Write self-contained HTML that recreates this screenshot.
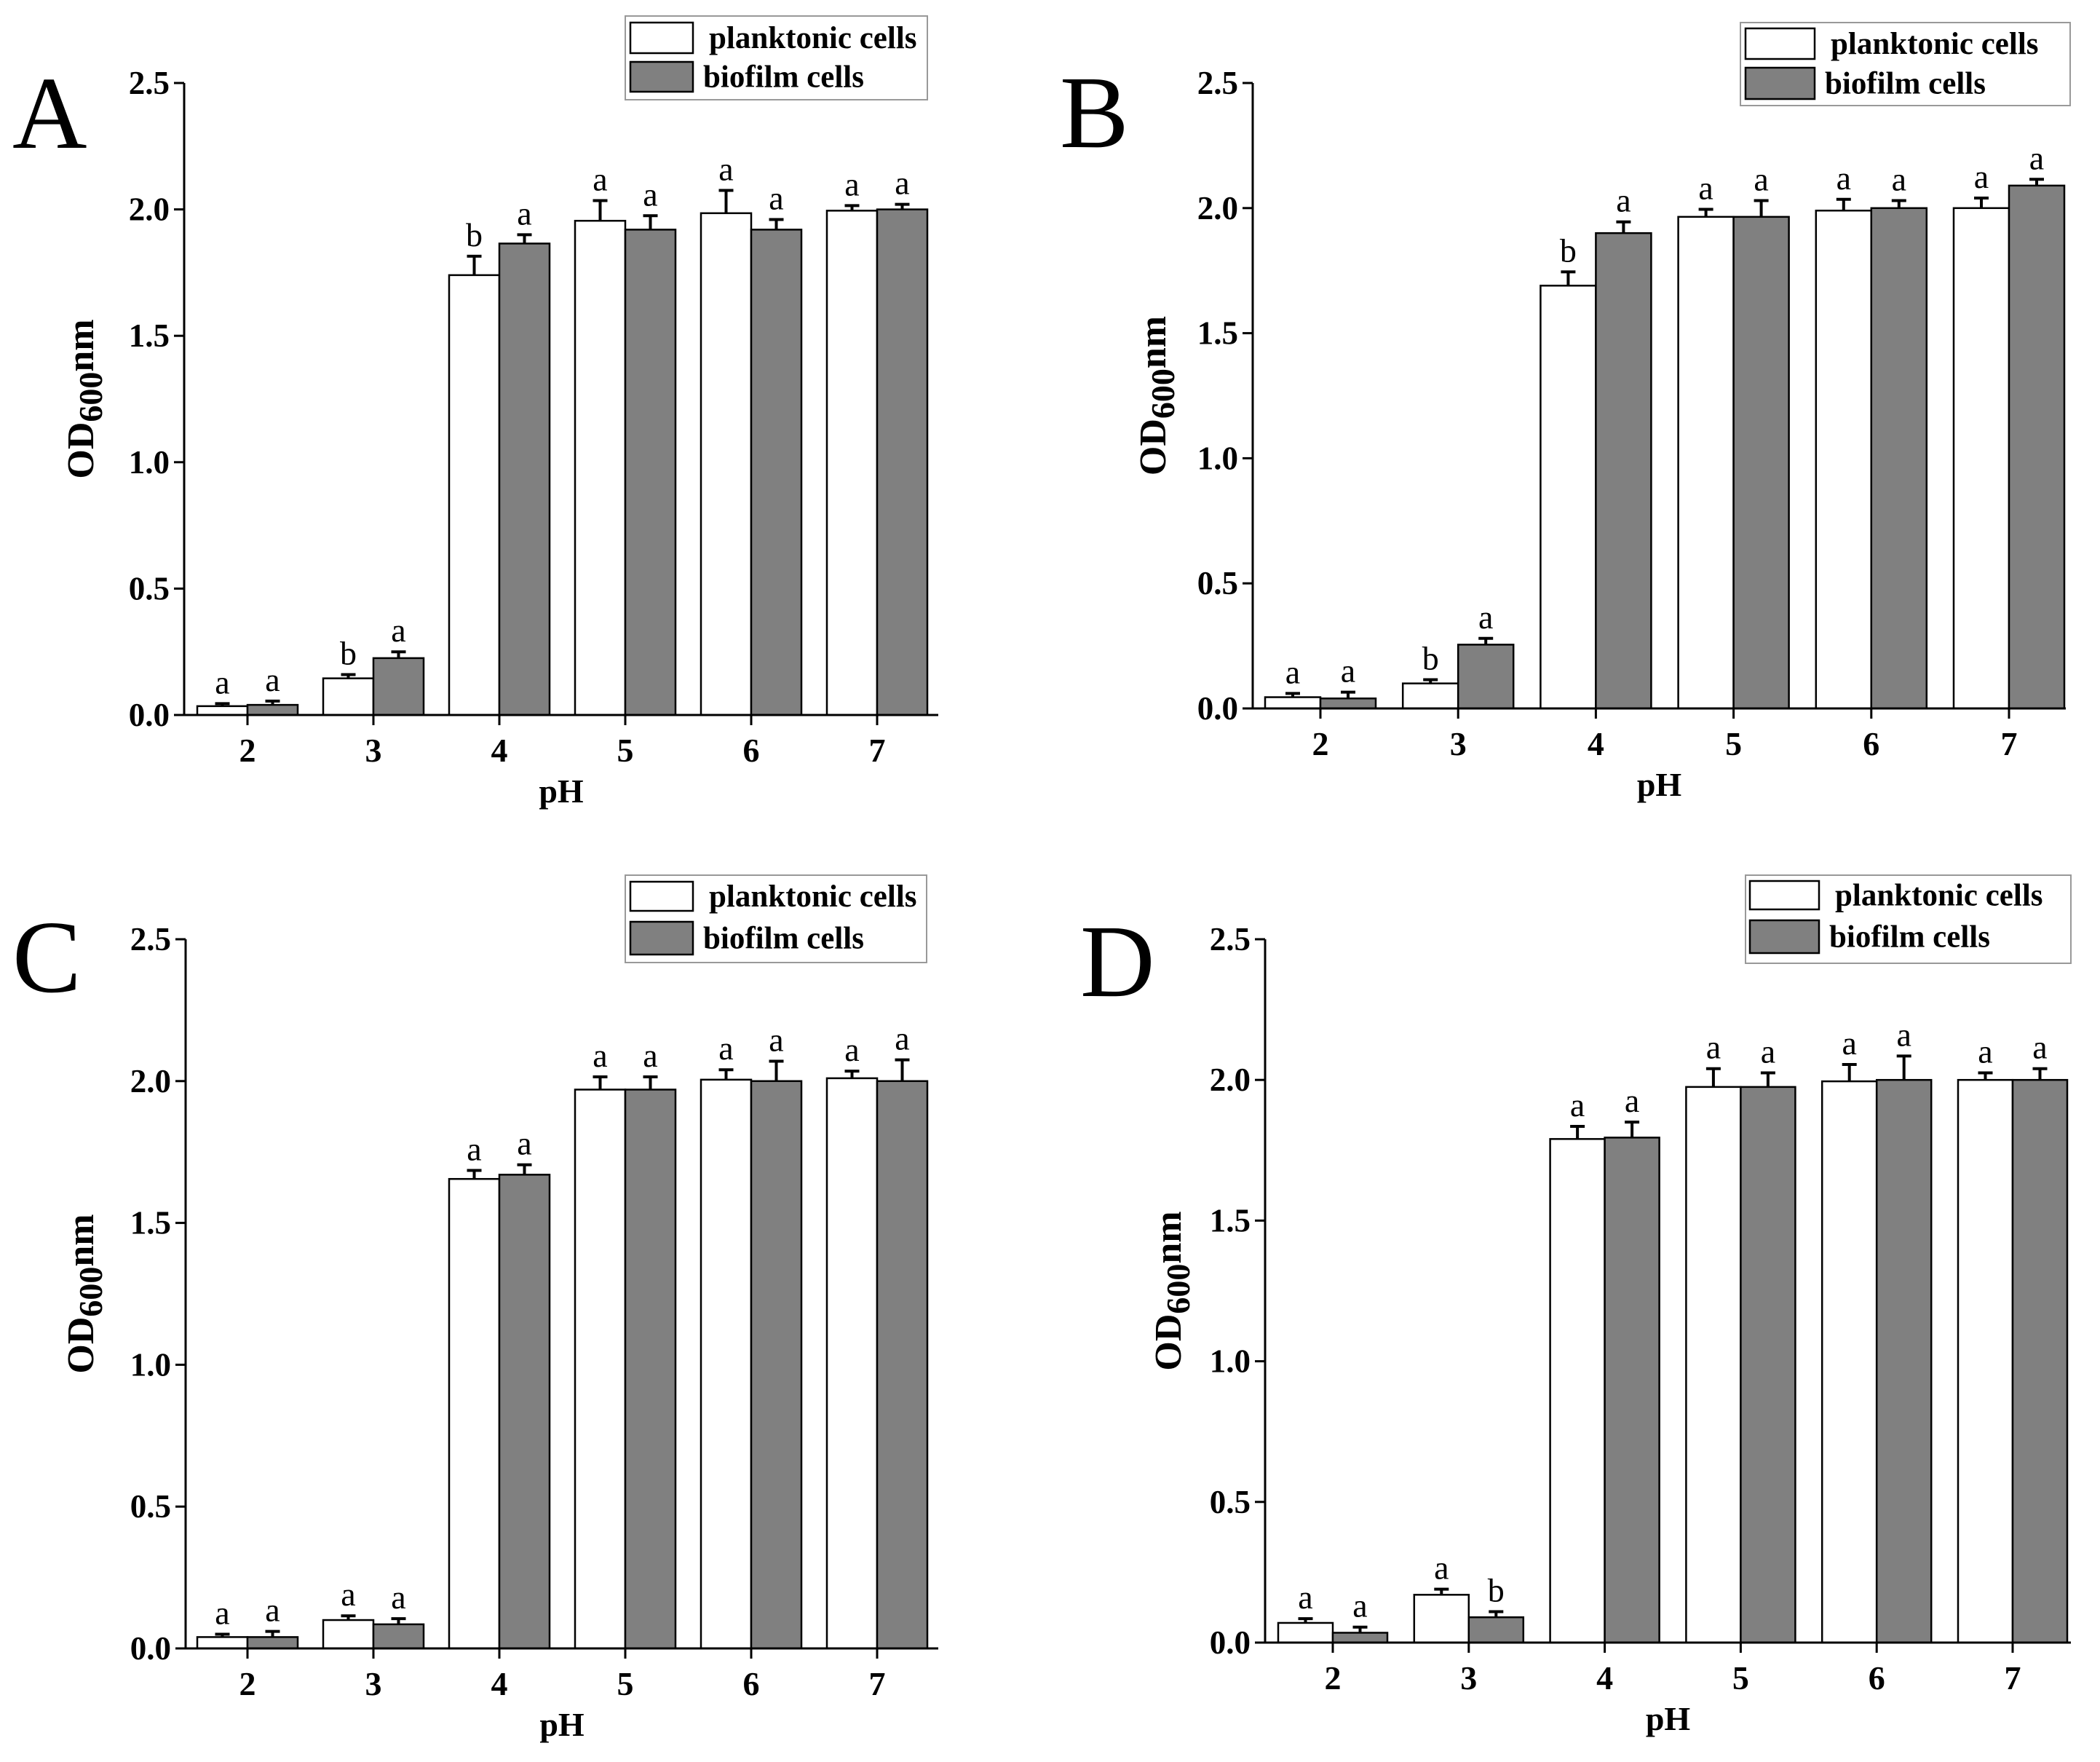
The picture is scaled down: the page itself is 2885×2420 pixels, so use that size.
<!DOCTYPE html>
<html><head><meta charset="utf-8"><style>
html,body{margin:0;padding:0;background:#fff}
svg{display:block}
text{font-family:"Liberation Serif","DejaVu Serif",serif}
</style></head><body>
<svg id="fig" width="2885" height="2420" xmlns="http://www.w3.org/2000/svg"></svg>
<script>
const categories = ["2","3","4","5","6","7"];
const yTicks = [0,0.5,1.0,1.5,2.0,2.5];
const yTickLabels = ["0.0","0.5","1.0","1.5","2.0","2.5"];
const seriesNames = ["planktonic cells","biofilm cells"];

const aPlank = [0.035,0.145,1.74,1.955,1.985,1.995];
const aPlankErr = [0.01,0.015,0.075,0.08,0.09,0.02];
const aBio = [0.04,0.225,1.865,1.92,1.92,2.0];
const aBioErr = [0.015,0.025,0.035,0.055,0.04,0.02];
const aPlankLet = ["a","b","b","a","a","a"];
const aBioLet = ["a","a","a","a","a","a"];

const bPlank = [0.045,0.10,1.69,1.965,1.99,2.0];
const bPlankErr = [0.015,0.015,0.055,0.03,0.045,0.04];
const bBio = [0.04,0.255,1.90,1.965,2.0,2.09];
const bBioErr = [0.025,0.025,0.045,0.065,0.03,0.025];
const bPlankLet = ["a","b","b","a","a","a"];
const bBioLet = ["a","a","a","a","a","a"];

const cPlank = [0.04,0.10,1.655,1.97,2.005,2.01];
const cPlankErr = [0.01,0.015,0.03,0.045,0.035,0.025];
const cBio = [0.04,0.085,1.67,1.97,2.0,2.0];
const cBioErr = [0.02,0.02,0.035,0.045,0.07,0.075];
const cPlankLet = ["a","a","a","a","a","a"];
const cBioLet = ["a","a","a","a","a","a"];

const dPlank = [0.07,0.17,1.79,1.975,1.995,2.0];
const dPlankErr = [0.015,0.02,0.045,0.065,0.06,0.025];
const dBio = [0.035,0.09,1.795,1.975,2.0,2.0];
const dBioErr = [0.02,0.02,0.055,0.05,0.085,0.04];
const dPlankLet = ["a","a","a","a","a","a"];
const dBioLet = ["a","b","a","a","a","a"];

const NS="http://www.w3.org/2000/svg";
const svg=document.getElementById('fig');
function mk(tag,attrs,parent){const e=document.createElementNS(NS,tag);for(const k in attrs)e.setAttribute(k,attrs[k]);(parent||svg).appendChild(e);return e;}

const panels=[
 {id:"a",L:"A",lx:17,ly:203,ax:253,y0:982,y25:114,xend:1289,c0:340,c5:1205,bw:69,
  leg:[859,22,1274,137],sw:[866,952],sy:[31,73,85,126],ylx:112,
  plank:aPlank,pe:aPlankErr,bio:aBio,be:aBioErr,pl:aPlankLet,bl:aBioLet},
 {id:"b",L:"B",lx:1456,ly:202,ax:1721,y0:973,y25:114,xend:2838,c0:1814,c5:2760,bw:76,
  leg:[2391,31,2844,145],sw:[2398,2493],sy:[39,81,93,136],ylx:1585,
  plank:bPlank,pe:bPlankErr,bio:bBio,be:bBioErr,pl:bPlankLet,bl:bBioLet},
 {id:"c",L:"C",lx:17,ly:1362,ax:255,y0:2264,y25:1290,xend:1289,c0:340,c5:1205,bw:69,
  leg:[859,1202,1273,1322],sw:[866,952],sy:[1211,1251,1266,1311],ylx:112,
  plank:cPlank,pe:cPlankErr,bio:cBio,be:cBioErr,pl:cPlankLet,bl:cBioLet},
 {id:"d",L:"D",lx:1484,ly:1368,ax:1738,y0:2256,y25:1290,xend:2845,c0:1831,c5:2765,bw:75,
  leg:[2398,1202,2845,1323],sw:[2404,2499],sy:[1210,1249,1264,1309],ylx:1606,
  plank:dPlank,pe:dPlankErr,bio:dBio,be:dBioErr,pl:dPlankLet,bl:dBioLet}
];

panels.forEach(p=>{
 const g=mk('g',{});
 
 
 const ys=v=>p.y0-(v/2.5)*(p.y0-p.y25);
 const xs=i=>p.c0+i*(p.c5-p.c0)/(categories.length-1);
 const pl=mk('text',{x:p.lx,y:p.ly,'font-size':142},g);pl.textContent=p.L;
 
 
 categories.forEach((c,i)=>{
  const cx=xs(i);
  [[p.plank,p.pe,p.pl,'#ffffff',-1,'planktonic'],[p.bio,p.be,p.bl,'#808080',0,'biofilm']].forEach(s=>{
   const v=s[0][i],e=s[1][i];
   const x=cx+s[4]*p.bw;
   const r=mk('rect',{x:x,y:ys(v),width:p.bw,height:p.y0-ys(v),fill:s[3],stroke:'#000','stroke-width':2.5},g);
   
   
   const mx=x+p.bw/2;
   const eb=mk('path',{d:`M${mx},${ys(v)} V${ys(v+e)} M${mx-10},${ys(v+e)} H${mx+10}`,stroke:'#000','stroke-width':4,fill:'none'},g);
   
   
   const t=mk('text',{x:mx,y:ys(v+e)-14,'font-size':46,'text-anchor':'middle'},g);
   t.textContent=s[2][i];
   
   
  });
  const tk=mk('line',{x1:cx,x2:cx,y1:p.y0,y2:p.y0+14,stroke:'#000','stroke-width':3},g);
  
  
  const tl=mk('text',{x:cx,y:p.y0+64,'font-size':46,'font-weight':'bold','text-anchor':'middle'},g);
  tl.textContent=c;
  
  
 });
 const ya=mk('line',{x1:p.ax,x2:p.ax,y1:p.y25,y2:p.y0,stroke:'#000','stroke-width':3},g);
 
 
 const xa=mk('line',{x1:p.ax-12,x2:p.xend,y1:p.y0,y2:p.y0,stroke:'#000','stroke-width':3},g);
 
 
 yTicks.forEach((v,i)=>{
  const tk=mk('line',{x1:p.ax-14,x2:p.ax,y1:ys(v),y2:ys(v),stroke:'#000','stroke-width':3},g);
  
  
  const tl=mk('text',{x:p.ax-20,y:ys(v)+15,'font-size':45,'font-weight':'bold','text-anchor':'end'},g);
  tl.textContent=yTickLabels[i];
  
  
 });
 const xt=mk('text',{x:(p.ax+p.xend)/2,y:p.y0+120,'font-size':46,'font-weight':'bold','text-anchor':'middle'},g);
 xt.textContent='pH';
 
 
 const ymid=(p.y0+p.y25)/2;
 const yt=mk('text',{x:0,y:0,'font-size':52,'font-weight':'bold','text-anchor':'middle',transform:`translate(${p.ylx+16},${ymid}) rotate(-90)`},g);
 yt.innerHTML='OD<tspan font-size="46" dy="12">600</tspan><tspan dy="-12">nm</tspan>';
 
 
 const lg=mk('g',{},g);
 
 
 mk('rect',{x:p.leg[0],y:p.leg[1],width:p.leg[2]-p.leg[0],height:p.leg[3]-p.leg[1],fill:'#fff',stroke:'#999','stroke-width':2},lg);
 [['#fff',p.sy[0],p.sy[1]],['#808080',p.sy[2],p.sy[3]]].forEach((s,k)=>{
  const r=mk('rect',{x:p.sw[0],y:s[1],width:p.sw[1]-p.sw[0],height:s[2]-s[1],fill:s[0],stroke:'#000','stroke-width':2.5},lg);
  
  
  const t=mk('text',{x:p.sw[1]+(k?14:22),y:(s[1]+s[2])/2+14,'font-size':43,'font-weight':'bold'},lg);
  t.textContent=seriesNames[k];
  
  
 });
});
</script>
</body></html>
